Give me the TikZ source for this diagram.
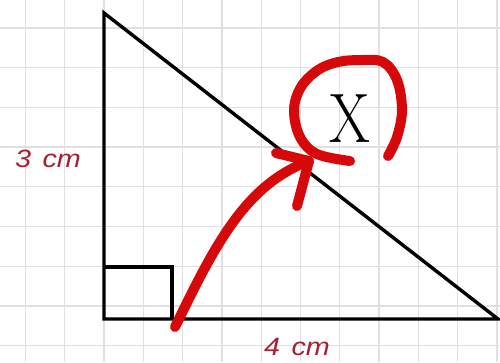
\documentclass[tikz,border=0pt]{standalone}
\usepackage{fontspec}
\newfontfamily\lblfont{Liberation Sans}
\definecolor{gridgray}{RGB}{224,224,226}
\definecolor{penred}{RGB}{214,8,10}
\definecolor{lblred}{RGB}{165,32,48}
\begin{document}
\begin{tikzpicture}[x=1pt,y=-1pt,
  gridline/.style={gridgray,line width=1.3pt},
  edge/.style={black,line width=3.4pt,line join=miter},
  pen/.style={penred,line width=10pt,line cap=round,line join=round},
  lbl/.style={lblred,inner sep=0pt,xscale=1.15,font=\lblfont\itshape\fontsize{25}{25}\selectfont}]
\useasboundingbox (0,0) rectangle (500,362);
\fill[white] (0,0) rectangle (500,362);
% grid
\foreach \k in {0,...,12} \draw[gridline] ({25.4+39.3*\k},0) -- ({25.4+39.3*\k},362);
\foreach \k in {0,...,8} \draw[gridline] (0,{28+39.7*\k}) -- (500,{28+39.7*\k});
% triangle
\coordinate (A) at (104,13);
\coordinate (B) at (104,319);
\coordinate (C) at (498,319);
\coordinate (Q1) at (104,267);
\coordinate (Q2) at (172,267);
\coordinate (Q3) at (172,319);
\draw[edge] (A) -- (B) -- (C) -- cycle;
\draw[edge] (Q1) -- (Q2) -- (Q3);
% labels
\node[lbl] (h) at (48,159) {3\hspace{0.4em}cm};
\node[lbl] (w) at (297,347) {4\hspace{0.4em}cm};
% X
\node[inner sep=0pt,xscale=0.84,font=\fontsize{70}{70}\selectfont] (X) at (350,119) {X};
% red arrow
\coordinate (S) at (175,327);
\coordinate (T) at (309,161);
\coordinate (H1) at (276,153);
\coordinate (H2) at (297,206);
\draw[pen] (S) .. controls (215,245) and (245,185) .. (T);
\draw[pen] (H1) -- (T) -- (H2);
% loop around X
\draw[pen] plot[smooth,tension=0.6] coordinates {(350,161) (317,154) (300,137) (294,110) (301,87) (318,70) (338,62) (361,60) (383,62) (397,80) (402,110) (397,137) (388,156)};
\end{tikzpicture}
\end{document}
